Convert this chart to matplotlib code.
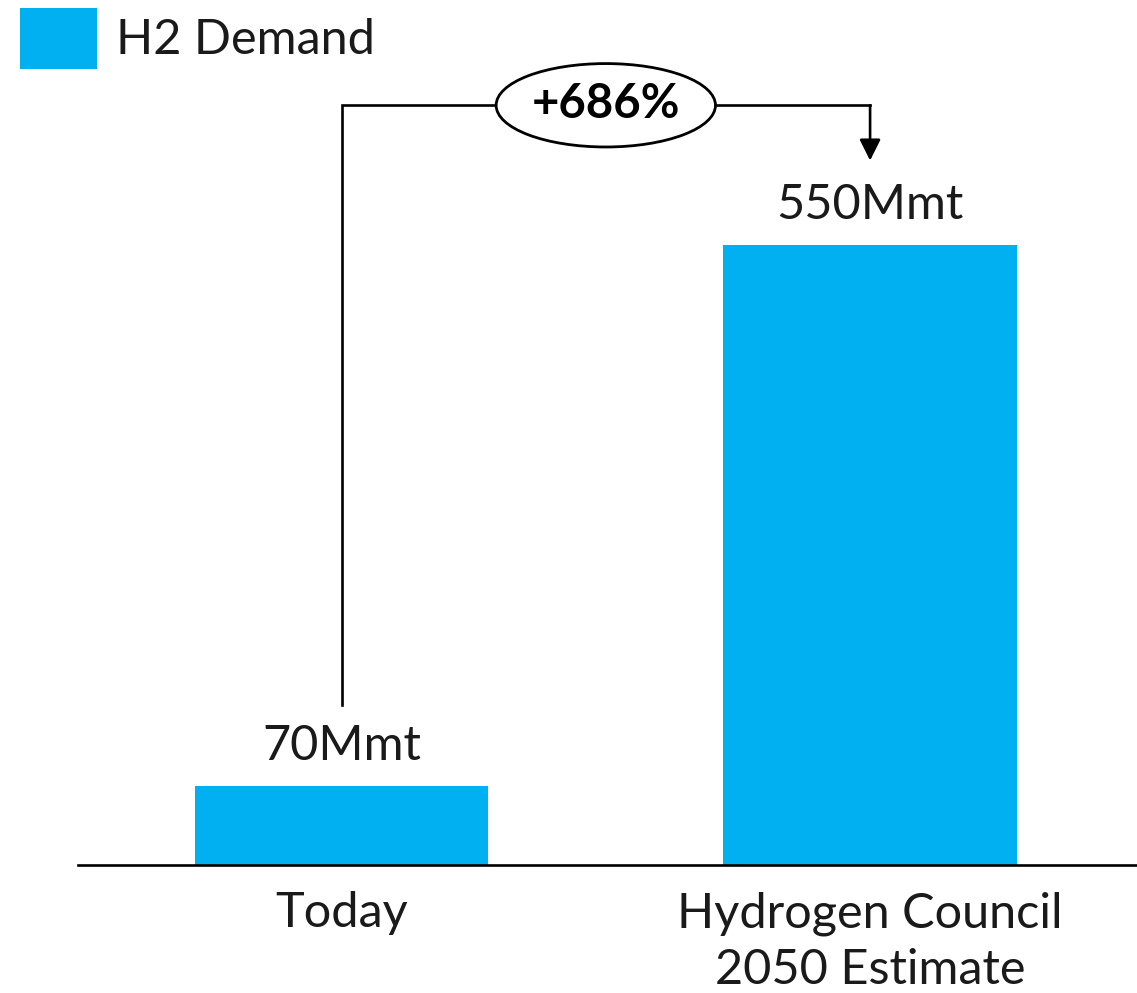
import matplotlib
matplotlib.use("Agg")
import matplotlib.pyplot as plt
from matplotlib.patches import Ellipse

plt.rcParams['font.family'] = ['Lato', 'DejaVu Sans']

categories = ["Today", "Hydrogen Council\n2050 Estimate"]
values = [70, 550]
value_labels = ["70Mmt", "550Mmt"]
series_name = "H2 Demand"
growth_label = "+686%"
color = "#00B0F0"

fig = plt.figure(figsize=(11.37, 9.93), dpi=100)
ax = fig.add_axes([0.0686, 0.1289, 0.9314, 0.8711])
x = list(range(len(categories)))
bars = ax.bar(x, values, width=0.555, color=color, label=series_name, zorder=2)
ax.set_xlim(-0.4986, 1.505)
ax.set_ylim(0, 767.4)

for xi, v, lab in zip(x, values, value_labels):
    ax.text(xi, v + 16, lab, ha='center', va='bottom', fontsize=35, color='#1a1a1a')

ax.set_xticks(x)
ax.set_xticklabels(categories, fontsize=35, color='#1a1a1a', linespacing=1.34)
ax.tick_params(axis='x', length=0, pad=19)
ax.set_yticks([])
for s in ['top', 'right', 'left']:
    ax.spines[s].set_visible(False)
ax.spines['bottom'].set_linewidth(1.9)
ax.spines['bottom'].set_color('black')

# growth connector
top_y = 674
ax.plot([x[0], x[0], x[1]], [values[0] + 72, top_y, top_y], color='black', lw=1.9, solid_joinstyle='miter', zorder=3)
ax.annotate('', xy=(x[1], 625), xytext=(x[1], top_y),
            arrowprops=dict(arrowstyle='-|>', color='black', lw=1.9,
                            mutation_scale=32, shrinkA=0, shrinkB=0), zorder=3)
mid = (x[0] + x[1]) / 2
ax.add_patch(Ellipse((mid, top_y), 0.415, 74, facecolor='white', edgecolor='black', lw=2.0, zorder=4))
ax.text(mid, top_y + 1, growth_label, ha='center', va='center', fontsize=34, fontweight='bold', zorder=5)

leg = ax.legend(loc='upper left', bbox_to_anchor=(0.0176, 0.992), bbox_transform=fig.transFigure,
                frameon=False, fontsize=35, handlelength=1.58, handleheight=1.55,
                handletextpad=0.4, borderaxespad=0, borderpad=0)
for t in leg.get_texts():
    t.set_color('#1a1a1a')

fig.savefig("out.png", dpi=100)
